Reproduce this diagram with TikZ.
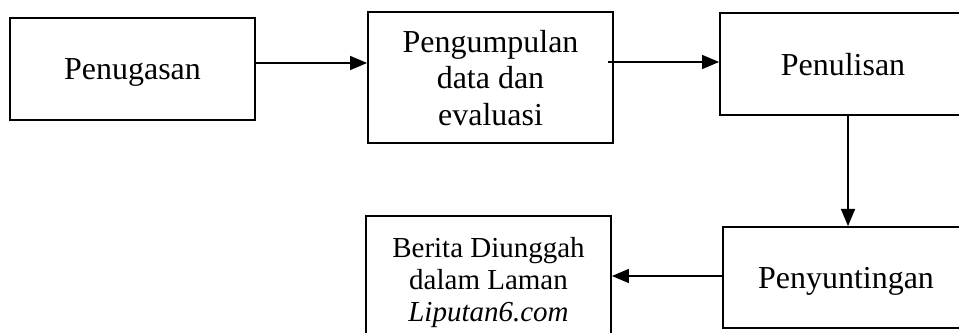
\documentclass[tikz,border=0pt]{standalone}
\usepackage{fontspec}
\setmainfont{Liberation Serif}
\usetikzlibrary{arrows.meta,positioning,calc}

\begin{document}
\begin{tikzpicture}[x=0.02cm,y=-0.02cm,
  box/.style={draw,line width=1.1pt,inner sep=0pt,align=center,text depth=0pt,
    font=\fontsize{18.2}{20.8}\selectfont},
  arr/.style={line width=0.75pt,-{Triangle[length=9.7pt,width=8pt]}}]
\useasboundingbox (0,0) rectangle (959,333);
\clip (0,0) rectangle (959,333);
\node[box,minimum width=4.9cm,minimum height=2.04cm] (tugas) at (132.5,69) {Penugasan};
\node[box,minimum width=4.9cm,minimum height=2.62cm] (kumpul) at (490.5,77.5) {Pengumpulan\\data dan\\evaluasi};
\node[box,minimum width=4.92cm,minimum height=2.04cm] (tulis) at (843,64) {Penulisan};
\node[box,minimum width=4.92cm,minimum height=2.02cm] (sunting) at (846,277.5) {Penyuntingan};
\node[box,minimum width=4.9cm,minimum height=2.52cm,
  font=\fontsize{16.5}{18.2}\selectfont] (unggah) at (488.5,279)
  {Berita Diunggah\\dalam Laman\\\textit{Liputan6.com}};
\draw[arr] ([yshift=0.12cm]tugas.east) coordinate (a1) -- (a1 -| kumpul.west);
\draw[arr] ([xshift=-0.12cm,yshift=0.31cm]kumpul.east) coordinate (a2) -- (a2 -| tulis.west);
\draw[arr] ([xshift=0.1cm]tulis.south) coordinate (a3) -- (a3 |- sunting.north);
\draw[arr] ([yshift=0.03cm]sunting.west) coordinate (a4) -- (a4 -| unggah.east);
\end{tikzpicture}
\end{document}
